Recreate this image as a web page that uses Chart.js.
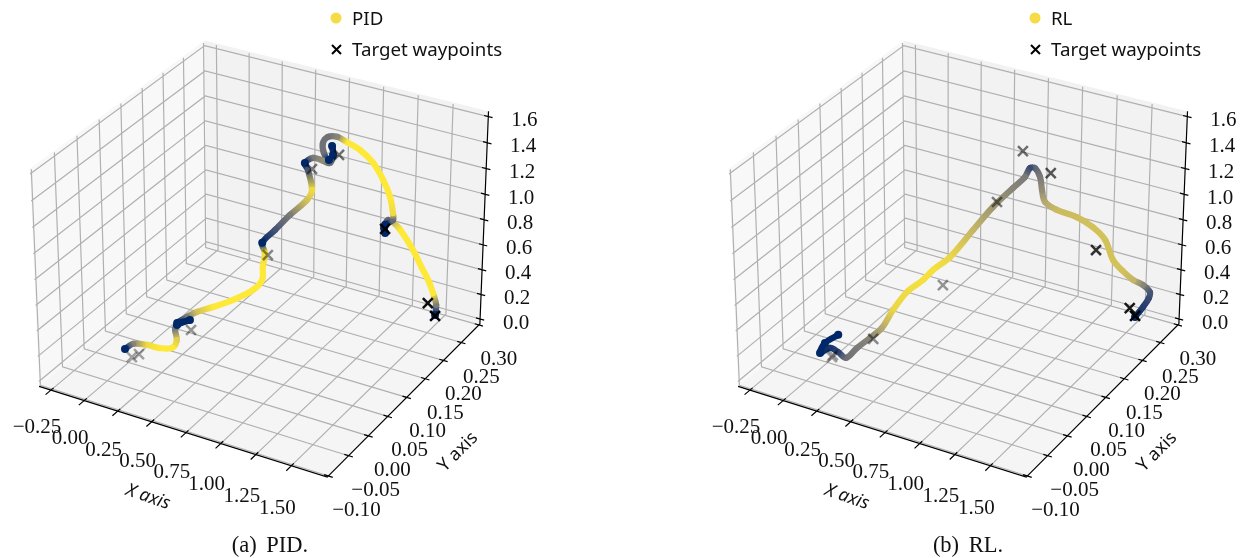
<!DOCTYPE html>
<html><head><meta charset="utf-8">
<script src="https://cdn.jsdelivr.net/npm/chart.js@4"></script>
<style>body{margin:0;background:#fff}canvas{position:absolute;top:0}</style>
</head><body>
<canvas id="pid" width="546" height="558" style="left:0"></canvas>
<canvas id="rl" width="546" height="558" style="left:699px"></canvas>
<script>
// tick values and labels
const xTicks = [-0.25, 0, 0.25, 0.5, 0.75, 1, 1.25, 1.5];
const xTickLabels = ['\u22120.25', '0.00', '0.25', '0.50', '0.75', '1.00', '1.25', '1.50'];
const yTicks = [-0.1, -0.05, 0, 0.05, 0.1, 0.15, 0.2, 0.25, 0.3];
const yTickLabels = ['\u22120.10', '\u22120.05', '0.00', '0.05', '0.10', '0.15', '0.20', '0.25', '0.30'];
const zTicks = [0, 0.2, 0.4, 0.6, 0.8, 1, 1.2, 1.4, 1.6];
const zTickLabels = ['0.0', '0.2', '0.4', '0.6', '0.8', '1.0', '1.2', '1.4', '1.6'];
const xLim = [-0.34, 1.75], yLim = [-0.103, 0.303], zLim = [-0.04, 1.64];

// PID trajectory
const pidX = [1.428,1.431,1.415,1.389,1.359,1.313,1.250,1.216,1.192,1.174,1.180,1.179,1.216,1.215,1.199,1.165,1.117,1.056,0.996,0.950,0.909,0.887,0.892,0.915,0.933,0.928,0.933,0.920,0.883,0.842,0.806,0.820,0.839,0.816,0.739,0.671,0.612,0.626,0.616,0.612,0.570,0.479,0.387,0.314,0.268,0.223,0.282,0.222,0.213,0.221,0.198,0.143,0.085,0.022,-0.015];
const pidY = [.300,.301,.297,.292,.285,.276,.263,.255,.250,.247,.248,.248,.255,.255,.252,.245,.235,.222,.209,.200,.191,.186,.187,.192,.196,.195,.196,.193,.185,.177,.169,.172,.176,.171,.155,.141,.129,.131,.129,.129,.120,.101,.081,.066,.056,.047,.059,.047,.045,.046,.042,.030,.018,.005,-.003];
const pidZ = [-0.060,0.022,0.125,0.238,0.344,0.501,0.678,0.751,0.773,0.714,0.673,0.737,0.767,0.822,0.952,1.094,1.239,1.354,1.430,1.480,1.490,1.450,1.372,1.312,1.346,1.416,1.346,1.288,1.320,1.346,1.316,1.259,1.099,1.027,0.930,0.830,0.744,0.661,0.553,0.451,0.382,0.327,0.297,0.277,0.250,0.214,0.222,0.198,0.161,0.078,0.020,0.035,0.077,0.103,0.073];
const pidC = [0,.5,1,1,1,1,1,.8,.4,0,0,0,.4,.95,1,1,1,1,1,.55,.45,.45,.45,0,.05,0,.1,.45,.6,.5,0,.3,.95,.85,.5,.3,0,.95,1,1,1,1,1,.85,.5,0,0,0,.5,.9,1,1,.95,.55,0];

// RL trajectory
const rlX = [1.433,1.470,1.497,1.501,1.466,1.418,1.364,1.320,1.279,1.221,1.145,1.052,0.996,0.981,0.971,0.947,0.925,0.902,0.848,0.757,0.667,0.562,0.484,0.438,0.365,0.301,0.249,0.194,0.134,0.084,0.048,0.012,-0.033,-0.010,0.050];
const rlY = [.301,.309,.314,.315,.308,.298,.286,.277,.269,.256,.240,.221,.209,.206,.204,.199,.194,.189,.178,.159,.140,.118,.102,.092,.077,.063,.052,.041,.028,.018,.010,.003,-.007,-.002,.011];
const rlZ = [-0.078,-0.005,0.061,0.109,0.176,0.230,0.326,0.419,0.591,0.710,0.809,0.888,0.966,1.063,1.167,1.242,1.248,1.184,1.113,0.988,0.832,0.647,0.565,0.498,0.423,0.297,0.167,0.102,0.038,-0.028,0.031,0.073,0.046,0.120,0.167];
const rlC = [0,.15,.25,.3,.55,.8,.85,.85,.85,.85,.83,.82,.75,.6,.5,.4,.25,.5,.55,.65,.8,.93,.97,.97,.95,.93,.75,.55,.5,.45,.2,.1,0,0,0];

// target waypoints
const pidWpX = [1.428,1.392,1.179,0.960,0.838,0.639,0.286,0.048,0.016];
const pidWpY = [.300,.292,.248,.202,.176,.134,.060,.010,.003];
const pidWpZ = [-0.068,0.049,0.705,1.339,1.262,0.642,0.140,0.014,-0.001];
const pidWpShade = [1,.95,.9,.55,.5,.45,.4,.35,.35];
const rlWpX = [1.433,1.407,1.238,1.021,0.892,0.775,0.529,0.208,0.025,0.020];
const rlWpY = [.301,.295,.260,.214,.187,.163,.111,.044,.005,.004];
const rlWpZ = [-0.069,0.004,0.521,1.185,1.387,1.022,0.433,0.090,0.013,-0.002];
const rlWpShade = [1,.9,.8,.65,.55,.5,.4,.45,.35,.35];

const view = {elev: 29.42, azim: -60.22, dist: 11.03, s: 3052.7, tx: 263.25, ty: 249.2};
const boxHalf = [0.595, 0.595, 0.446];
const colorStops = [[0,40,105],[58,74,115],[124,123,120],[182,169,113],[254,232,56]];
const yLabelNudge = [8, 7, 4, 2, 1, 0, 0, 0, 0];

function project(x, y, z) {
    const qx = ((x - xLim[0]) / (xLim[1] - xLim[0]) * 2 - 1) * boxHalf[0];
    const qy = ((y - yLim[0]) / (yLim[1] - yLim[0]) * 2 - 1) * boxHalf[1];
    const qz = ((z - zLim[0]) / (zLim[1] - zLim[0]) * 2 - 1) * boxHalf[2];
    const e = view.elev * Math.PI / 180, a = view.azim * Math.PI / 180;
    const w = [Math.cos(e) * Math.cos(a), Math.cos(e) * Math.sin(a), Math.sin(e)];
    const u = [-Math.sin(a), Math.cos(a)];
    const v = [-Math.sin(e) * Math.cos(a), -Math.sin(e) * Math.sin(a), Math.cos(e)];
    const d = view.dist - (qx * w[0] + qy * w[1] + qz * w[2]);
    return {
        x: view.tx + view.s * (qx * u[0] + qy * u[1]) / d,
        y: view.ty - view.s * (qx * v[0] + qy * v[1] + qz * v[2]) / d
    };
}

function speedColor(t) {
    const p = Math.min(t, 0.9999) * (colorStops.length - 1), i = Math.floor(p), f = p - i;
    const c = colorStops[i].map((v, k) => Math.round(v + (colorStops[i + 1][k] - v) * f));
    return `rgb(${c[0]},${c[1]},${c[2]})`;
}

const GAP = {x: null, y: null};

function polygon(corners, color) {
    return {data: corners.map(c => project(...c)), showLine: true, fill: 'shape', backgroundColor: color,
        borderWidth: 0, pointRadius: 0};
}

function frameDatasets() {
    const [x0, x1] = xLim, [y0, y1] = yLim, [z0, z1] = zLim;
    const gridTop = z1 - 0.012;
    const grid = [], axes = [];
    xTicks.forEach(t => grid.push(project(t, y0, z0), project(t, y1, z0), project(t, y1, gridTop), GAP));
    yTicks.forEach(t => grid.push(project(x1, t, z0), project(x0, t, z0), project(x0, t, gridTop), GAP));
    zTicks.forEach(t => grid.push(project(x1, y1, t), project(x0, y1, t), project(x0, y0, t), GAP));
    axes.push(project(x0, y0, z0), project(x1, y0, z0), project(x1, y1, z0), project(x1, y1, z1), GAP);
    xTicks.forEach(t => axes.push(project(t, y0 + 0.006, z0), project(t, y0 - 0.012, z0), GAP));
    yTicks.forEach(t => axes.push(project(x1 - 0.03, t, z0), project(x1 + 0.03, t, z0), GAP));
    zTicks.forEach(t => axes.push(project(x1 - 0.03, y1, t), project(x1 + 0.03, y1, t), GAP));
    return [
        polygon([[x0,y0,z0],[x0,y1,z0],[x0,y1,z1],[x0,y0,z1],[x0,y0,z0]], '#f8f8f8'),
        polygon([[x0,y1,z0],[x1,y1,z0],[x1,y1,z1],[x0,y1,z1],[x0,y1,z0]], '#f2f2f2'),
        polygon([[x0,y0,z0],[x1,y0,z0],[x1,y1,z0],[x0,y1,z0],[x0,y0,z0]], '#f5f5f5'),
        {data: grid, showLine: true, borderColor: '#b0b0b0', borderWidth: 1.2, pointRadius: 0},
        {data: axes, showLine: true, borderColor: '#000', borderWidth: 1.2, pointRadius: 0}
    ];
}

// text and legend are drawn on top, placed through the scales
const textPlugin = {
    id: 'panelText',
    afterDatasetsDraw(chart, args, opts) {
        const ctx = chart.ctx, sx = chart.scales.x, sy = chart.scales.y;
        const put = (str, px, py, font, rot, align) => {
            ctx.save();
            ctx.translate(sx.getPixelForValue(px), sy.getPixelForValue(py));
            ctx.rotate(rot || 0);
            ctx.font = font;
            ctx.textAlign = align || 'center';
            ctx.textBaseline = 'middle';
            ctx.fillStyle = '#111';
            ctx.fillText(str, 0, 0);
            ctx.restore();
        };
        const tickFont = '21px "Liberation Serif"';
        xTicks.forEach((t, i) => { const p = project(t, yLim[0], zLim[0]); put(xTickLabels[i], p.x - 14, p.y + 37.5 + 0.7 * i, tickFont); });
        yTicks.forEach((t, i) => { const p = project(xLim[1], t, zLim[0]); put(yTickLabels[i], p.x + 20 + yLabelNudge[i], p.y + 34.5, tickFont); });
        zTicks.forEach((t, i) => { const p = project(xLim[1], yLim[1], t); put(zTickLabels[i], p.x + 36, p.y + 4, tickFont); });
        put('X axis', 148, 497, 'italic 18px "Noto Sans"', 19 * Math.PI / 180);
        put('Y axis', 458, 452, '18px "Noto Sans"', -45 * Math.PI / 180);
        ctx.wordSpacing = '4px';
        put(opts.caption, opts.captionX, 546.5, '22.5px "Liberation Serif"');
        ctx.wordSpacing = '0px';
        // legend
        ctx.save();
        ctx.fillStyle = '#f5db45';
        ctx.beginPath();
        ctx.arc(sx.getPixelForValue(336), sy.getPixelForValue(18), 5.5, 0, 2 * Math.PI);
        ctx.fill();
        ctx.strokeStyle = '#000';
        ctx.lineWidth = 2;
        ctx.beginPath();
        ctx.moveTo(332, 45); ctx.lineTo(341, 54);
        ctx.moveTo(341, 45); ctx.lineTo(332, 54);
        ctx.stroke();
        ctx.restore();
        put(opts.label, 352, 20, '18.7px "Noto Sans"', 0, 'left');
        put('Target waypoints', 352, 51, '18.7px "Noto Sans"', 0, 'left');
    }
};

function drawPanel(id, label, caption, captionX, xs, ys, zs, cs, wpX, wpY, wpZ, wpShade) {
    const datasets = frameDatasets();
    datasets.push({
        data: xs.map((x, i) => project(x, ys[i], zs[i])),
        showLine: true, tension: 0.35, borderWidth: 6.2, borderCapStyle: 'round', borderJoinStyle: 'round',
        borderColor: '#fee838',
        // the slowest samples pile up into darker blobs
        pointRadius: cs.map(c => c < 0.06 ? 4 : 0), pointBorderWidth: 0, pointBackgroundColor: speedColor(0),
        segment: {
            borderColor: c => {
                const g = c.chart.ctx.createLinearGradient(c.p0.x, c.p0.y, c.p1.x, c.p1.y);
                g.addColorStop(0, speedColor(cs[c.p0DataIndex]));
                g.addColorStop(1, speedColor(cs[c.p1DataIndex]));
                return g;
            }
        }
    });
    datasets.push({
        data: wpX.map((x, i) => project(x, wpY[i], wpZ[i])),
        pointStyle: 'crossRot', pointRadius: 7, pointBorderWidth: 2.5,
        pointBorderColor: wpShade.map(a => `rgba(0,0,0,${a})`)
    });
    return new Chart(document.getElementById(id), {
        type: 'scatter',
        data: {datasets: datasets.reverse()},
        options: {
            responsive: false, animation: false, layout: {padding: 0, autoPadding: false},
            plugins: {legend: {display: false}, tooltip: {enabled: false}, panelText: {label, caption, captionX}},
            scales: {
                x: {type: 'linear', min: 0, max: 546, display: false},
                y: {type: 'linear', min: 0, max: 558, reverse: true, display: false}
            }
        },
        plugins: [textPlugin]
    });
}

drawPanel('pid', 'PID', '(a) PID.', 270, pidX, pidY, pidZ, pidC, pidWpX, pidWpY, pidWpZ, pidWpShade);
drawPanel('rl', 'RL', '(b) RL.', 269, rlX, rlY, rlZ, rlC, rlWpX, rlWpY, rlWpZ, rlWpShade);
</script>
</body></html>
